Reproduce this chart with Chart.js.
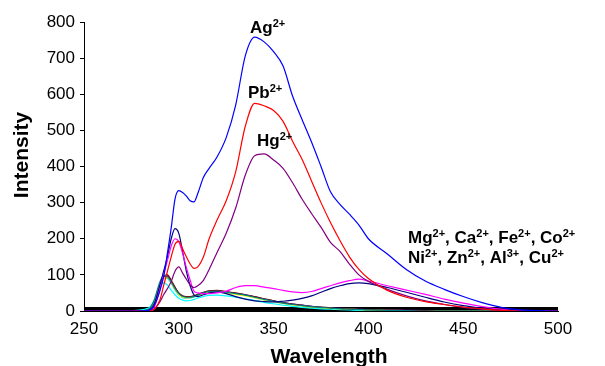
<!DOCTYPE html>
<html>
<head>
<meta charset="utf-8">
<script src="https://cdn.jsdelivr.net/npm/chart.js@4.4.0/dist/chart.umd.min.js"></script>
<style>
    body { margin: 0; background: #ffffff; }
    canvas { display: block; }
</style>
</head>
<body>
<canvas id="espectroChart" width="605" height="366"></canvas>
<script>
// Wavelength grid (nm) shared by every series
var wavelengths = [250, 270, 278, 284, 287, 290, 292, 294, 296, 298, 300, 302, 304, 306, 308, 310, 313, 316, 320, 325, 330, 335, 340, 345, 350, 355, 360, 365, 370, 375, 380, 385, 390, 395, 400, 410, 420, 430, 440, 450, 460, 470, 480, 500];

var agValues = [0, 0, 0, 2, 15, 55, 95, 160, 230, 310, 333, 328, 318, 305, 302, 325, 370, 395, 425, 480, 570, 705, 758, 745, 718, 678, 595, 530, 468, 400, 330, 295, 268, 238, 200, 158, 115, 83, 60, 40, 23, 10, 3, 0];
var pbValues = [0, 0, 0, 0, 5, 30, 70, 110, 150, 185, 193, 172, 150, 130, 118, 122, 150, 200, 250, 305, 385, 510, 575, 568, 555, 525, 470, 420, 360, 300, 245, 195, 150, 115, 90, 57, 38, 26, 18, 11, 6, 2, 0, 0];
var hgValues = [0, 0, 0, 0, 5, 25, 45, 62, 82, 110, 122, 105, 88, 72, 65, 70, 85, 115, 160, 215, 285, 375, 430, 435, 418, 395, 355, 310, 270, 232, 190, 165, 130, 100, 82, 60, 42, 28, 18, 10, 5, 2, 0, 0];
var navyValues = [0, 0, 0, 0, 15, 70, 110, 150, 200, 228, 215, 165, 110, 70, 45, 40, 45, 50, 52, 48, 40, 33, 28, 26, 25, 27, 30, 35, 42, 52, 62, 70, 76, 78, 76, 65, 52, 38, 25, 15, 8, 3, 0, 0];
var magentaValues = [0, 0, 0, 0, 10, 60, 100, 140, 180, 200, 192, 160, 120, 85, 55, 50, 48, 48, 50, 55, 65, 70, 70, 66, 62, 57, 53, 51, 54, 62, 70, 78, 84, 88, 83, 70, 58, 46, 33, 22, 12, 5, 0, 0];
var tealValues = [0, 0, 0, 5, 30, 80, 98, 95, 80, 62, 48, 40, 38, 38, 40, 44, 50, 54, 55, 52, 48, 44, 38, 32, 27, 22, 18, 15, 12, 10, 8, 6, 5, 4, 3, 2, 1, 0, 0, 0, 0, 0, 0, 0];
var darkRedValues = [0, 0, 0, 3, 20, 70, 95, 100, 85, 66, 50, 42, 40, 40, 42, 46, 52, 56, 57, 54, 50, 45, 40, 34, 28, 23, 19, 16, 13, 11, 9, 7, 6, 5, 4, 3, 2, 1, 0, 0, 0, 0, 0, 0];
var yellowValues = [0, 0, 0, 2, 18, 65, 90, 92, 78, 60, 45, 38, 36, 37, 40, 44, 48, 52, 53, 50, 46, 42, 37, 31, 26, 21, 17, 14, 11, 9, 7, 6, 5, 4, 3, 2, 1, 0, 0, 0, 0, 0, 0, 0];
var cyanValues = [0, 0, 2, 8, 30, 70, 78, 72, 58, 45, 35, 30, 28, 29, 32, 36, 40, 43, 44, 42, 38, 34, 29, 24, 20, 16, 13, 10, 8, 6, 5, 4, 3, 2, 2, 1, 0, 0, 0, 0, 0, 0, 0, 0];
var skyValues = [0, 0, 0, 4, 25, 75, 92, 90, 76, 58, 44, 37, 35, 36, 39, 43, 49, 53, 54, 51, 47, 43, 37, 31, 26, 21, 17, 14, 11, 9, 7, 6, 5, 4, 3, 2, 1, 0, 0, 0, 0, 0, 0, 0];
var blueBundleValues = [0, 0, 0, 3, 22, 72, 94, 97, 82, 64, 49, 41, 39, 39, 41, 45, 51, 55, 56, 53, 49, 45, 39, 33, 28, 23, 19, 16, 13, 10, 8, 7, 6, 5, 4, 3, 2, 1, 0, 0, 0, 0, 0, 0];
var baselineValues = [4, 4, 4, 4, 4, 4, 4, 4, 4, 4, 4, 4, 4, 4, 4, 4, 4, 4, 4, 4, 4, 4, 4, 4, 4, 4, 4, 4, 4, 4, 4, 4, 4, 4, 4, 4, 4, 4, 4, 4, 4, 4, 4, 4];

var yTicks = [0, 100, 200, 300, 400, 500, 600, 700, 800];
var xTicks = [250, 300, 350, 400, 450, 500];

// Convert a series into {x, y} points on the wavelength grid
function toPoints(values) {
    return wavelengths.map(function (w, i) {
        return { x: w, y: values[i] };
    });
}

function serie(values, color, width) {
    return {
        data: toPoints(values),
        borderColor: color,
        backgroundColor: color,
        borderWidth: width || 1.2,
        pointRadius: 0,
        cubicInterpolationMode: "monotone",
        fill: false,
    };
}

// Labels drawn on the plot, each one a list of [text, superscript?]
var etiquetas = [
    { x: 250, y: 33, parts: [["Ag", false], ["2+", true]] },
    { x: 248, y: 98, parts: [["Pb", false], ["2+", true]] },
    { x: 257, y: 146, parts: [["Hg", false], ["2+", true]] },
    { x: 408, y: 243, parts: [["Mg", false], ["2+", true], [", Ca", false], ["2+", true], [", Fe", false], ["2+", true], [", Co", false], ["2+", true]] },
    { x: 408, y: 263, parts: [["Ni", false], ["2+", true], [", Zn", false], ["2+", true], [", Al", false], ["3+", true], [", Cu", false], ["2+", true]] },
];

var textosPlugin = {
    id: "textos",
    afterDraw: function (chart) {
        var ctx = chart.ctx;
        ctx.save();
        ctx.fillStyle = "#000000";
        ctx.textBaseline = "alphabetic";
        ctx.textAlign = "left";
        etiquetas.forEach(function (et) {
            var x = et.x;
            et.parts.forEach(function (p) {
                if (p[1]) {
                    ctx.font = "bold 11px 'Liberation Sans', Arial, sans-serif";
                    ctx.fillText(p[0], x, et.y - 6);
                } else {
                    ctx.font = "bold 17px 'Liberation Sans', Arial, sans-serif";
                    ctx.fillText(p[0], x, et.y);
                }
                x += ctx.measureText(p[0]).width;
            });
        });

        // Axis titles
        ctx.font = "bold 21px 'Liberation Sans', Arial, sans-serif";
        ctx.textAlign = "center";
        ctx.textBaseline = "alphabetic";
        ctx.fillText("Wavelength", 329, 363);
        ctx.translate(28, 155);
        ctx.rotate(-Math.PI / 2);
        ctx.fillText("Intensity", 0, 0);
        ctx.restore();
    },
};

var ctx = document.getElementById("espectroChart").getContext("2d");
var espectroChart = new Chart(ctx, {
    type: "line",
    data: {
        datasets: [
            serie(agValues, "#0000FF"),
            serie(pbValues, "#FF0000"),
            serie(hgValues, "#800080"),
            serie(magentaValues, "#FF00FF"),
            serie(navyValues, "#000080"),
            serie(tealValues, "#008080"),
            serie(darkRedValues, "#800000"),
            serie(yellowValues, "#FFFF00"),
            serie(cyanValues, "#00FFFF"),
            serie(skyValues, "#00CCFF"),
            serie(blueBundleValues, "#0000FF"),
            serie(baselineValues, "#000000", 5),
        ],
    },
    options: {
        responsive: false,
        animation: false,
        devicePixelRatio: 1,
        layout: {
            padding: { left: 0, right: 47, top: 22, bottom: 0 },
        },
        plugins: {
            legend: { display: false },
            tooltip: { enabled: false },
        },
        scales: {
            x: {
                type: "linear",
                min: 250,
                max: 500,
                afterFit: function (scale) {
                    scale.height = 55;
                },
                afterBuildTicks: function (scale) {
                    scale.ticks = xTicks.map(function (v) {
                        return { value: v };
                    });
                },
                grid: { display: false, drawTicks: false },
                border: { display: true, color: "#000000", width: 1 },
                ticks: {
                    padding: 8,
                    color: "#000000",
                    maxRotation: 0,
                    font: { family: "'Liberation Sans', Arial, sans-serif", size: 17 },
                },
            },
            y: {
                min: 0,
                max: 800,
                afterFit: function (scale) {
                    scale.width = 84;
                },
                afterBuildTicks: function (scale) {
                    scale.ticks = yTicks.map(function (v) {
                        return { value: v };
                    });
                },
                grid: {
                    drawOnChartArea: false,
                    drawTicks: true,
                    tickLength: 4,
                    color: "#000000",
                },
                border: { display: true, color: "#000000", width: 1 },
                ticks: {
                    padding: 5,
                    color: "#000000",
                    font: { family: "'Liberation Sans', Arial, sans-serif", size: 17 },
                },
            },
        },
    },
    plugins: [textosPlugin],
});
</script>
</body>
</html>
